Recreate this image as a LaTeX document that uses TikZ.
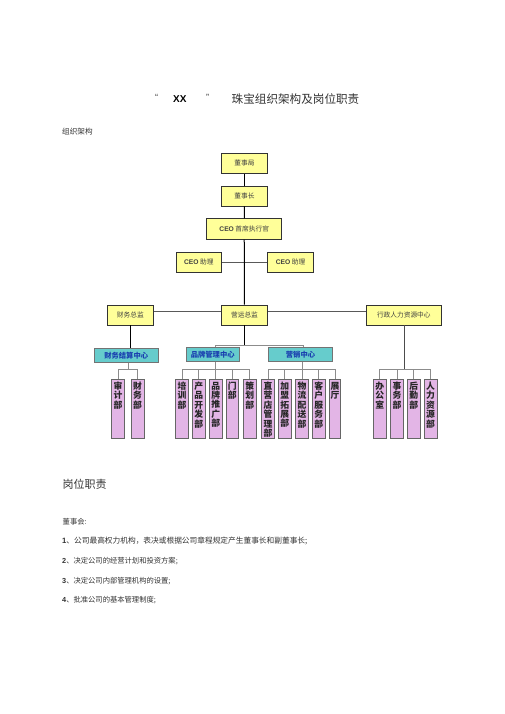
\documentclass[tikz,border=0pt]{standalone}
\usepackage{fontspec}
\setmainfont{Liberation Serif}
\newfontfamily\cjk{Noto Sans CJK SC}
\newfontfamily\arialf{Liberation Sans}
\usetikzlibrary{calc}
\definecolor{yfill}{HTML}{FFFF99}
\definecolor{cfill}{HTML}{66CCCC}
\definecolor{pfill}{HTML}{E3B5E6}
\definecolor{ctext}{HTML}{1A3FB0}
\definecolor{bodytext}{HTML}{333333}
\tikzset{
  ybox/.style={draw=black!80, line width=0.6pt, fill=yfill, minimum width=#1, minimum height=20pt, inner sep=0pt, font=\cjk\fontsize{6.7}{7}\selectfont, text=black!75},
  cbox/.style={draw=black!55, line width=0.6pt, fill=cfill, minimum width=#1, minimum height=14.4pt, inner sep=0pt, font=\cjk\bfseries\fontsize{7.3}{8}\selectfont, text=ctext},
  pbox/.style={draw=black!60, line width=0.6pt, fill=pfill, minimum width=12.7pt, minimum height=59pt, inner sep=0pt, anchor=north},
  ptext/.style={anchor=north, align=center, inner sep=0pt, yshift=-2.5pt, font=\cjk\bfseries\fontsize{8.8}{9.4}\selectfont, text=black!85},
  mainline/.style={draw=black, line width=1pt},
  subline/.style={draw=black!45, line width=0.8pt},
  hline/.style={draw=black!65, line width=0.7pt},
  plain/.style={inner sep=0pt, anchor=west, text=bodytext}
}
\begin{document}
\begin{tikzpicture}[x=1pt,y=-1pt]
\useasboundingbox[fill=white] (0,0) rectangle (505,714);

% title
\node[plain, font=\arialf\fontsize{9}{10}\selectfont] (tq1) at (155,97) {“};
\node[plain, font=\arialf\bfseries\fontsize{10}{12}\selectfont, text=black] (txx) at (173,99) {XX};
\node[plain, font=\arialf\fontsize{9}{10}\selectfont] (tq2) at (206,97) {”};
\node[plain, font=\cjk\fontsize{11.6}{13}\selectfont] (ttitle) at (231.5,99) {珠宝组织架构及岗位职责};
\node[plain, font=\cjk\fontsize{7.6}{9}\selectfont] (tzz) at (62,132) {组织架构};

% yellow boxes
\node[ybox=45.6pt] (dsj) at (244.5,163.3) {董事局};
\node[ybox=45.6pt, minimum height=19.3pt] (dsz) at (244.5,196.3) {董事长};
\node[ybox=75pt, minimum height=20.6pt] (ceo) at (244.2,229) {{\arialf\bfseries CEO}\ 首席执行官};
\node[ybox=45.7pt] (ast1) at (198.8,262.3) {{\arialf\bfseries CEO}\ 助理};
\node[ybox=45.6pt] (ast2) at (290.5,262.3) {{\arialf\bfseries CEO}\ 助理};
\node[ybox=46pt] (cw) at (130.3,315) {财务总监};
\node[ybox=45.6pt] (yy) at (244.5,315) {营运总监};
\node[ybox=75.7pt] (xz) at (403.8,315) {行政人力资源中心};

% cyan boxes
\node[cbox=64.3pt] (fc) at (126.2,355.5) {财务结算中心};
\node[cbox=53.3pt] (pp) at (212.7,354.5) {品牌管理中心};
\node[cbox=64.4pt] (yx) at (300.5,354.5) {营销中心};

% pink boxes
\node[pbox] (f1) at (118,379.2) {};
\node[pbox] (f2) at (137.6,379.2) {};
\node[pbox] (b1) at (182,379.2) {};
\node[pbox] (b2) at (198.7,379.2) {};
\node[pbox] (b3) at (215.8,379.2) {};
\node[pbox] (b4) at (232.3,379.2) {};
\node[pbox] (b5) at (249.7,379.2) {};
\node[pbox] (m1) at (268,379.2) {};
\node[pbox] (m2) at (284.7,379.2) {};
\node[pbox] (m3) at (302,379.2) {};
\node[pbox] (m4) at (318.8,379.2) {};
\node[pbox, minimum width=11.4pt] (m5) at (335,379.2) {};
\node[pbox] (x1) at (379.7,379.2) {};
\node[pbox] (x2) at (397,379.2) {};
\node[pbox] (x3) at (413.7,379.2) {};
\node[pbox] (x4) at (430.5,379.2) {};

\node[ptext] (f1t) at (f1.north) {审\\计\\部};
\node[ptext] (f2t) at (f2.north) {财\\务\\部};
\node[ptext] (b1t) at (b1.north) {培\\训\\部};
\node[ptext] (b2t) at (b2.north) {产\\品\\开\\发\\部};
\node[ptext] (b3t) at (b3.north) {品\\牌\\推\\广\\部};
\node[ptext] (b4t) at (b4.north) {门\\部};
\node[ptext] (b5t) at (b5.north) {策\\划\\部};
\node[ptext] (m1t) at (m1.north) {直\\营\\店\\管\\理\\部};
\node[ptext] (m2t) at (m2.north) {加\\盟\\拓\\展\\部};
\node[ptext] (m3t) at (m3.north) {物\\流\\配\\送\\部};
\node[ptext] (m4t) at (m4.north) {客\\户\\服\\务\\部};
\node[ptext] (m5t) at (m5.north) {展\\厅};
\node[ptext] (x1t) at (x1.north) {办\\公\\室};
\node[ptext] (x2t) at (x2.north) {事\\务\\部};
\node[ptext] (x3t) at (x3.north) {后\\勤\\部};
\node[ptext] (x4t) at (x4.north) {人\\力\\资\\源\\部};

% main connectors
\draw[mainline] (dsj) -- (dsz);
\draw[mainline] (dsz) -- (ceo);
\draw[hline] (ast1.east) -- (ast2.west);
\draw[mainline] (ceo) -- (yy);
\draw[hline] ([yshift=3.3pt]cw.east) -- ([yshift=3.3pt]yy.west);
\draw[hline] ([yshift=3.3pt]yy.east) -- ([yshift=3.3pt]xz.west);
\draw[mainline] (cw.south) -- (cw.south |- fc.north);

% operations bus
\coordinate (ybus) at (244.5,345);
\coordinate (ppk) at (215,345);
\coordinate (yxk) at (303,345);
\draw[mainline] (yy.south) -- (ybus);
\draw[subline] (ppk) -- (yxk);
\draw[subline] (ppk) -- (ppk |- pp.north);
\draw[subline] (yxk) -- (yxk |- yx.north);

% child buses
\coordinate (fbus) at (128.3,369);
\draw[subline] (fbus |- fc.south) -- (fbus);
\draw[subline] (f1.north |- fbus) -- (f2.north |- fbus);
\foreach \n in {f1,f2} \draw[subline] (\n.north |- fbus) -- (\n.north);

\coordinate (bbus) at (215,369);
\draw[subline] (bbus |- pp.south) -- (bbus);
\draw[subline] (b1.north |- bbus) -- (b5.north |- bbus);
\foreach \n in {b1,b2,b3,b4,b5} \draw[subline] (\n.north |- bbus) -- (\n.north);

\coordinate (mbus) at (302,369);
\draw[subline] (mbus |- yx.south) -- (mbus);
\draw[subline] (m1.north |- mbus) -- (m5.north |- mbus);
\foreach \n in {m1,m2,m3,m4,m5} \draw[subline] (\n.north |- mbus) -- (\n.north);

\coordinate (xbus) at (404.3,369);
\draw[mainline, draw=black!70, line width=0.8pt] (xbus |- xz.south) -- (xbus);
\draw[subline] (x1.north |- xbus) -- (x4.north |- xbus);
\foreach \n in {x1,x2,x3,x4} \draw[subline] (\n.north |- xbus) -- (\n.north);

% duties text
\node[plain, font=\cjk\fontsize{11}{13}\selectfont] (tgw) at (62.5,484) {岗位职责};
\node[plain, font=\cjk\fontsize{7.3}{9}\selectfont] (tdsh) at (62.5,521.7) {董事会:};
\node[plain, font=\cjk\fontsize{7.7}{9}\selectfont] (l1) at (62,541) {{\arialf\bfseries 1}、公司最高权力机构，表决或根据公司章程规定产生董事长和副董事长;};
\node[plain, font=\cjk\fontsize{7.3}{9}\selectfont] (l2) at (62,560.7) {{\arialf\bfseries 2}、决定公司的经营计划和投资方案;};
\node[plain, font=\cjk\fontsize{7.3}{9}\selectfont] (l3) at (62,580.7) {{\arialf\bfseries 3}、决定公司内部管理机构的设置;};
\node[plain, font=\cjk\fontsize{7.3}{9}\selectfont] (l4) at (62,600) {{\arialf\bfseries 4}、批准公司的基本管理制度;};
\end{tikzpicture}
\end{document}
